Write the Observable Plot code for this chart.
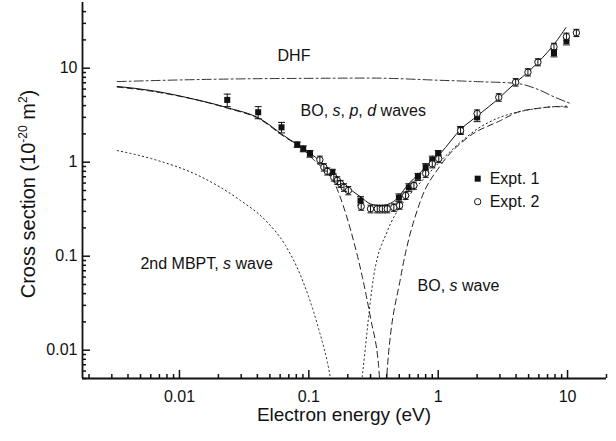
<!DOCTYPE html>
<html>
<head>
<meta charset="utf-8">
<script src="https://cdn.jsdelivr.net/npm/d3@7"></script>
<script src="https://cdn.jsdelivr.net/npm/@observablehq/plot@0.6"></script>
<style>
  html, body { margin: 0; padding: 0; background: #fff; }
  #chart { width: 616px; height: 441px; }
</style>
</head>
<body>
<div id="chart"></div>
<script>
// ---------- data ----------
// DHF (dash-dot)
const dhfE = [0.0033, 0.01, 0.03, 0.1, 0.3, 1, 2, 4, 6, 8, 10.6];
const dhfV = [7.2, 7.5, 7.7, 7.8, 7.85, 7.45, 7.2, 6.9, 5.9, 4.9, 4.2];

// BO, s, p, d waves (solid)
const spdE = [0.0033, 0.006, 0.012, 0.0235, 0.042, 0.064, 0.103, 0.15, 0.2, 0.25, 0.3, 0.36, 0.45, 0.6, 0.8, 1.04, 1.5, 2, 3, 4, 5, 6, 8, 9.7];
const spdV = [6.4, 5.8, 4.8, 3.8, 2.9, 1.92, 1.24, 0.8, 0.54, 0.43, 0.36, 0.345, 0.38, 0.6, 0.88, 1.24, 2.25, 3.1, 4.9, 7.1, 9.2, 11.8, 18.5, 27];

// BO, s wave (dashed)
const boE = [0.0033, 0.006, 0.0235, 0.042, 0.064, 0.09, 0.109, 0.161, 0.211, 0.26, 0.3, 0.346, 0.376, 0.406, 0.512, 0.731, 1.04, 1.69, 3.04, 4.1, 6, 8, 10];
const boV = [6.3, 5.7, 3.75, 2.85, 1.88, 1.38, 1.06, 0.565, 0.187, 0.059, 0.022, 0.0069, 0.0015, 0.0069, 0.059, 0.39, 0.92, 1.83, 2.78, 3.4, 3.75, 3.9, 3.85];

// 2nd MBPT, s wave (dotted)
const mbE = [0.0033, 0.006, 0.0145, 0.0296, 0.0463, 0.066, 0.0863, 0.117, 0.147, 0.195, 0.26, 0.316, 0.406, 0.486, 0.6, 0.8, 1, 1.5, 2, 3, 5, 8, 10];
const mbV = [1.33, 1.095, 0.705, 0.392, 0.24, 0.13, 0.0623, 0.0183, 0.005, 0.0002, 0.0056, 0.059, 0.187, 0.306, 0.45, 0.7, 0.97, 1.65, 2.25, 3.0, 3.6, 3.9, 3.95];

// Expt. 1 (filled squares)
const ex1E = [0.0234, 0.0406, 0.0615, 0.0813, 0.0905, 0.102, 0.152, 0.251, 0.497, 0.593, 0.697, 0.8, 0.9, 1.0, 1.49, 2.0, 7.85, 9.8];
const ex1V = [4.6, 3.4, 2.35, 1.54, 1.39, 1.23, 0.78, 0.39, 0.42, 0.54, 0.70, 0.885, 1.06, 1.23, 2.2, 3.0, 14.5, 19.5];
const ex1Err = [0.7, 0.5, 0.3, 0.1, 0.1, 0.1, 0.06, 0.04, 0.04, 0.05, 0.06, 0.08, 0.1, 0.1, 0.2, 0.3, 1.3, 1.8];

// Expt. 2 (open circles)
const ex2E = [0.1217, 0.1306, 0.1389, 0.156, 0.166, 0.176, 0.187, 0.202, 0.254, 0.30, 0.338, 0.37, 0.404, 0.454, 0.503, 0.56, 0.649, 0.8, 0.9, 1.01, 1.49, 2.0, 2.94, 3.97, 4.94, 5.9, 7.85, 9.8, 11.7];
const ex2V = [1.06, 0.885, 0.80, 0.69, 0.64, 0.59, 0.54, 0.50, 0.338, 0.319, 0.319, 0.319, 0.319, 0.33, 0.346, 0.442, 0.565, 0.76, 0.96, 1.09, 2.17, 3.3, 4.9, 7.1, 9.06, 11.6, 16.9, 21.7, 23.8];
const ex2Err = [0.1, 0.08, 0.07, 0.06, 0.06, 0.05, 0.05, 0.05, 0.03, 0.03, 0.03, 0.03, 0.03, 0.03, 0.03, 0.04, 0.05, 0.07, 0.09, 0.1, 0.2, 0.3, 0.45, 0.65, 0.8, 1.0, 1.5, 1.9, 2.1];

// axes
const xDomain = [0.00178, 20];
const yDomain = [0.005, 50];
const xMajor = [0.01, 0.1, 1, 10];
const yMajor = [0.01, 0.1, 1, 10];
const xLabels = ["0.01", "0.1", "1", "10"];
const yLabels = ["0.01", "0.1", "1", "10"];
const xMinor = [0.002,0.003,0.004,0.005,0.006,0.007,0.008,0.009,0.02,0.03,0.04,0.05,0.06,0.07,0.08,0.09,0.2,0.3,0.4,0.5,0.6,0.7,0.8,0.9,2,3,4,5,6,7,8,9,20];
const yMinor = [0.005,0.006,0.007,0.008,0.009,0.02,0.03,0.04,0.05,0.06,0.07,0.08,0.09,0.2,0.3,0.4,0.5,0.6,0.7,0.8,0.9,2,3,4,5,6,7,8,9,20,30,40];

// annotations
const notes = [
  {text: "DHF", e: 0.0573, v: 13.6},
  {text: "BO, *s*, *p*, *d* waves", e: 0.0863, v: 3.55},
  {text: "2nd MBPT, *s* wave", e: 0.00499, v: 0.0836},
  {text: "BO, *s* wave", e: 0.693, v: 0.0488}
];
const legendItems = [
  {text: "Expt. 1", e: 2.02, v: 0.668, textE: 2.5},
  {text: "Expt. 2", e: 2.02, v: 0.38, textE: 2.5}
];

// ---------- build tables ----------
const zip = (E, V) => E.map((e, i) => ({e, v: V[i]}));
const dhf = zip(dhfE, dhfV);
const spd = zip(spdE, spdV);
const bo = zip(boE, boV);
const mb = zip(mbE, mbV);
const ex1 = ex1E.map((e, i) => ({e, v: ex1V[i], err: ex1Err[i]}));
const ex2 = ex2E.map((e, i) => ({e, v: ex2V[i], err: ex2Err[i]}));

const capSymbol = {
  draw(ctx, size) {
    const h = Math.sqrt(size / Math.PI);
    ctx.moveTo(-h, 0);
    ctx.lineTo(h, 0);
  }
};

const ink = "#111";
const xFmt = d => xLabels[xMajor.indexOf(d)];
const yFmt = d => yLabels[yMajor.indexOf(d)];

const chart = Plot.plot({
  width: 616,
  height: 441,
  marginLeft: 82,
  marginRight: 10,
  marginTop: 2,
  marginBottom: 63,
  x: {type: "log", domain: xDomain},
  y: {type: "log", domain: yDomain},
  style: {fontFamily: "'Liberation Sans', Arial, Helvetica, sans-serif", fontSize: "16px", color: ink, background: "#fff"},
  marks: [
    // curves
    Plot.line(dhf, {x: "e", y: "v", stroke: "#333", strokeWidth: 1, strokeDasharray: "9,3,2,3", curve: "monotone-x", clip: true}),
    Plot.line(mb, {x: "e", y: "v", stroke: "#222", strokeWidth: 1, strokeDasharray: "1.3,3", curve: "monotone-x", clip: true}),
    Plot.line(bo, {x: "e", y: "v", stroke: "#222", strokeWidth: 1, strokeDasharray: "6,4", curve: "monotone-x", clip: true}),
    Plot.line(spd, {x: "e", y: "v", stroke: "#111", strokeWidth: 1, curve: "monotone-x", clip: true}),
    // Expt 1
    Plot.ruleX(ex1, {x: "e", y1: d => d.v - d.err, y2: d => d.v + d.err, stroke: ink, strokeWidth: 1}),
    Plot.dot(ex1, {x: "e", y: d => d.v + d.err, symbol: capSymbol, r: 3.5, stroke: ink, fill: "none", strokeWidth: 1}),
    Plot.dot(ex1, {x: "e", y: d => d.v - d.err, symbol: capSymbol, r: 3.5, stroke: ink, fill: "none", strokeWidth: 1}),
    Plot.dot(ex1, {x: "e", y: "v", symbol: "square", r: 3.4, fill: ink, stroke: "none"}),
    // Expt 2
    Plot.dot(ex2, {x: "e", y: "v", r: 3.2, fill: "#fff", stroke: ink, strokeWidth: 1}),
    Plot.ruleX(ex2, {x: "e", y1: d => d.v - d.err, y2: d => d.v + d.err, stroke: ink, strokeWidth: 1}),
    Plot.dot(ex2, {x: "e", y: d => d.v + d.err, symbol: capSymbol, r: 3, stroke: ink, fill: "none", strokeWidth: 1}),
    Plot.dot(ex2, {x: "e", y: d => d.v - d.err, symbol: capSymbol, r: 3, stroke: ink, fill: "none", strokeWidth: 1}),
    // annotations
    Plot.text(notes, {x: "e", y: "v", text: "text", textAnchor: "start", fontSize: 16, fill: ink}),
    // legend
    Plot.dot(legendItems.slice(0, 1), {x: "e", y: "v", symbol: "square", r: 3.4, fill: ink, stroke: "none"}),
    Plot.dot(legendItems.slice(1), {x: "e", y: "v", r: 3.2, fill: "#fff", stroke: ink, strokeWidth: 1}),
    Plot.text(legendItems, {x: "textE", y: "v", text: "text", textAnchor: "start", fontSize: 16, fill: ink}),
    // axes
    Plot.ruleX([xDomain[0]], {stroke: ink, strokeWidth: 1.8}),
    Plot.ruleY([yDomain[0]], {stroke: ink, strokeWidth: 1.8}),
    Plot.axisX({ticks: xMinor, tickSize: -4, fill: "none", stroke: ink, strokeWidth: 1.5, label: null}),
    Plot.axisX({ticks: xMajor, tickSize: -8, tickPadding: 20, tickFormat: xFmt, stroke: ink, strokeWidth: 1.5, fontSize: 16, label: null}),
    Plot.axisY({ticks: yMinor, tickSize: -4, fill: "none", stroke: ink, strokeWidth: 1.5, label: null}),
    Plot.axisY({ticks: yMajor, tickSize: -8, tickPadding: 13, tickFormat: yFmt, stroke: ink, strokeWidth: 1.5, fontSize: 16, label: null})
  ]
});

// italic segments marked with *...*
const NS = "http://www.w3.org/2000/svg";
chart.querySelectorAll("text").forEach(t => {
  const s = t.textContent;
  if (s.includes("*")) {
    const parts = s.split("*");
    while (t.firstChild) t.removeChild(t.firstChild);
    parts.forEach((p, i) => {
      if (!p) return;
      const ts = document.createElementNS(NS, "tspan");
      ts.textContent = p;
      if (i % 2) ts.setAttribute("font-style", "italic");
      t.appendChild(ts);
    });
  }
});

// axis titles
const svg = d3.select(chart);
svg.append("text")
  .attr("x", 344).attr("y", 421)
  .attr("text-anchor", "middle")
  .attr("font-size", 19)
  .attr("fill", ink)
  .text("Electron energy (eV)");

const yt = svg.append("text")
  .attr("transform", "translate(35,194) rotate(-90)")
  .attr("text-anchor", "middle")
  .attr("font-size", 20)
  .attr("fill", ink);
yt.append("tspan").text("Cross section (10");
yt.append("tspan").attr("dy", -8).attr("font-size", 12).text("-20");
yt.append("tspan").attr("dy", 8).text(" m");
yt.append("tspan").attr("dy", -8).attr("font-size", 12).text("2");
yt.append("tspan").attr("dy", 8).text(")");

document.getElementById("chart").appendChild(chart);
</script>
</body>
</html>
